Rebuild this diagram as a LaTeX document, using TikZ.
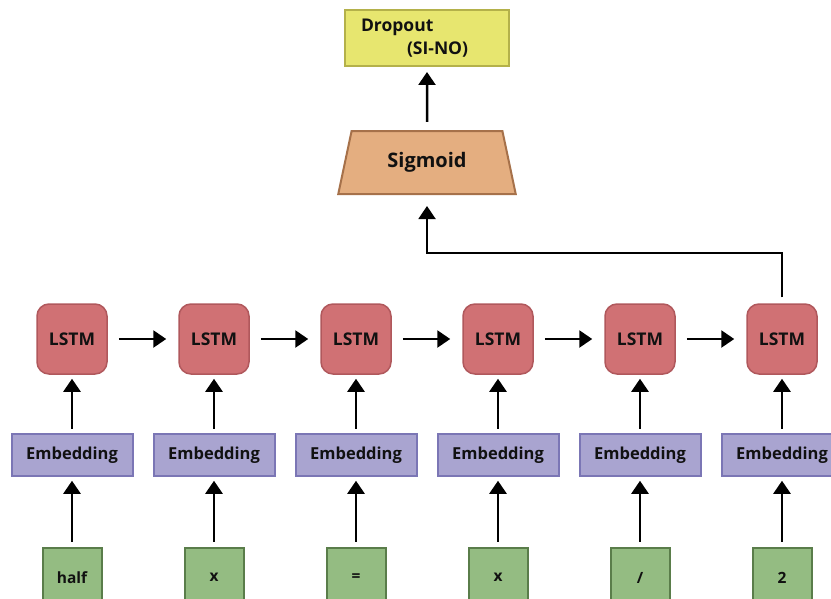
\documentclass[tikz,border=0pt]{standalone}
\usepackage{fontspec}
\setmainfont{Open Sans}
\usepackage{tikz}
\usetikzlibrary{arrows.meta, positioning, shapes.geometric}
\definecolor{LstmFill}{HTML}{D07174}
\definecolor{LstmEdge}{HTML}{B0585C}
\definecolor{EmbedFill}{HTML}{A9A4D0}
\definecolor{EmbedEdge}{HTML}{7B76B5}
\definecolor{TokenFill}{HTML}{94BC82}
\definecolor{TokenEdge}{HTML}{5A7D4A}
\definecolor{SigmoidFill}{HTML}{E4AE80}
\definecolor{SigmoidEdge}{HTML}{A6714A}
\definecolor{DropoutFill}{HTML}{E7E66F}
\definecolor{DropoutEdge}{HTML}{B4B14A}
\definecolor{DarkText}{HTML}{111111}

\begin{document}
\begin{tikzpicture}[
        node distance=70.5pt,
        lstm/.style={
          rectangle, rounded corners=12pt,
          draw=LstmEdge, fill=LstmFill, line width=1.5pt,
          minimum width=70pt, minimum height=70pt, inner sep=0pt,
          font=\fontsize{17.5}{20}\selectfont\bfseries\color{DarkText}
        },
        embed/.style={
          rectangle,
          draw=EmbedEdge, fill=EmbedFill, line width=2pt,
          minimum width=121pt, minimum height=42pt, inner sep=0pt,
          font=\fontsize{16.5}{20}\selectfont\bfseries\color{DarkText}
        },
        token/.style={
          rectangle,
          draw=TokenEdge, fill=TokenFill, line width=2pt,
          minimum width=59pt, minimum height=60pt, inner sep=0pt,
          font=\fontsize{15.5}{18}\selectfont\bfseries\color{DarkText}
        },
        sigbox/.style={
          trapezium, trapezium stretches=true,
          trapezium left angle=70.7, trapezium right angle=70.7,
          draw=SigmoidEdge, fill=SigmoidFill, line width=2pt,
          minimum width=178pt, minimum height=63pt, inner sep=0pt,
          font=\fontsize{20}{24}\selectfont\bfseries\color{DarkText}
        },
        outbox/.style={
          rectangle,
          draw=DropoutEdge, fill=DropoutFill, line width=2pt,
          minimum width=164pt, minimum height=56pt, inner sep=0pt,
          text width=132pt, align=left,
          font=\fontsize{17.5}{23}\selectfont\bfseries\color{DarkText}
        },
        arr/.style={-{Triangle[length=13pt, width=17pt]}, line width=2.5pt,
          shorten <=4pt, shorten >=4pt}
      ]
      \path[use as bounding box, clip] (0pt,0pt) rectangle (831pt,-598pt);

      \node[lstm] (lstm1) at (72pt,-339pt) {LSTM};
      \node[lstm, right=of lstm1] (lstm2) {LSTM};
      \node[lstm, right=of lstm2] (lstm3) {LSTM};
      \node[lstm, right=of lstm3] (lstm4) {LSTM};
      \node[lstm, right=of lstm4] (lstm5) {LSTM};
      \node[lstm, right=of lstm5] (lstm6) {LSTM};

      \node[embed, below=58pt of lstm1] (emb1) {Embedding};
      \node[embed, below=58pt of lstm2] (emb2) {Embedding};
      \node[embed, below=58pt of lstm3] (emb3) {Embedding};
      \node[embed, below=58pt of lstm4] (emb4) {Embedding};
      \node[embed, below=58pt of lstm5] (emb5) {Embedding};
      \node[embed, below=58pt of lstm6] (emb6) {Embedding};

      \node[token, below=70pt of emb1] (tok1) {half};
      \node[token, below=70pt of emb2] (tok2) {x};
      \node[token, below=70pt of emb3] (tok3) {=};
      \node[token, below=70pt of emb4] (tok4) {x};
      \node[token, below=70pt of emb5] (tok5) {/};
      \node[token, below=70pt of emb6] (tok6) {2};

      \node[sigbox] (sigmoid) at (427pt,-162.5pt) {Sigmoid};
      \node[outbox, above=64pt of sigmoid, yshift=-1pt] (dropout)
            {Dropout\\\hspace*{46pt}(SI-NO)};

      \draw[arr, shorten <=5pt] (tok1) -- (emb1);
      \draw[arr, shorten <=5pt] (tok2) -- (emb2);
      \draw[arr, shorten <=5pt] (tok3) -- (emb3);
      \draw[arr, shorten <=5pt] (tok4) -- (emb4);
      \draw[arr, shorten <=5pt] (tok5) -- (emb5);
      \draw[arr, shorten <=5pt] (tok6) -- (emb6);

      \draw[arr] (emb1) -- (lstm1);
      \draw[arr] (emb2) -- (lstm2);
      \draw[arr] (emb3) -- (lstm3);
      \draw[arr] (emb4) -- (lstm4);
      \draw[arr] (emb5) -- (lstm5);
      \draw[arr] (emb6) -- (lstm6);

      \draw[arr, shorten <=11pt, shorten >=12pt] (lstm1) -- (lstm2);
      \draw[arr, shorten <=11pt, shorten >=12pt] (lstm2) -- (lstm3);
      \draw[arr, shorten <=11pt, shorten >=12pt] (lstm3) -- (lstm4);
      \draw[arr, shorten <=11pt, shorten >=12pt] (lstm4) -- (lstm5);
      \draw[arr, shorten <=11pt, shorten >=12pt] (lstm5) -- (lstm6);

      \draw[arr, line width=2pt, shorten <=6pt, shorten >=11pt]
            (lstm6.north) -- ++(0pt,50pt) -| (sigmoid.south);
      \draw[arr, shorten <=8pt, shorten >=5pt] (sigmoid) -- (dropout);
    \end{tikzpicture}
\end{document}
